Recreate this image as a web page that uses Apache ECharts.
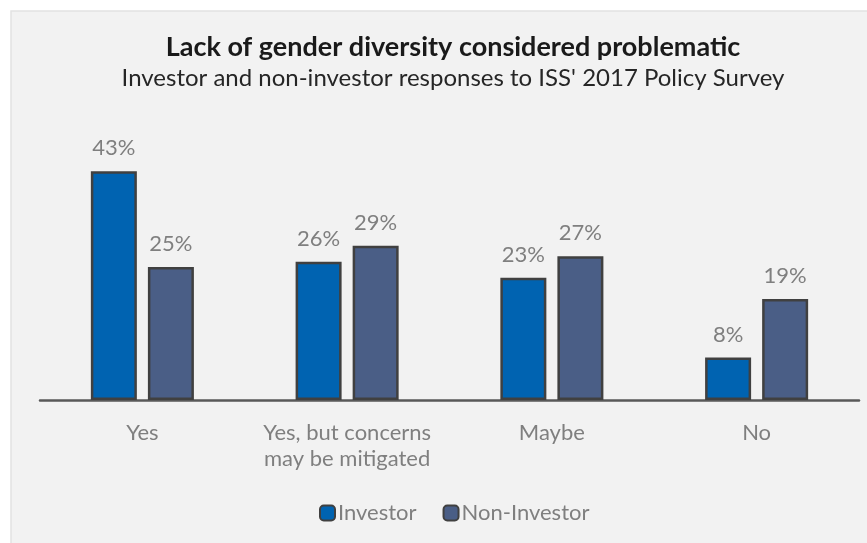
<!DOCTYPE html>
<html>
<head>
<meta charset="utf-8">
<script src="https://cdn.jsdelivr.net/npm/echarts@6/dist/echarts.min.js"></script>
<style>html,body{margin:0;padding:0;background:#fff;}#c{width:867px;height:543px;}</style>
</head>
<body>
<div id="c"></div>
<script>
var categories = ['Yes', 'Yes, but concerns\nmay be mitigated', 'Maybe', 'No'];
var investor = [43, 26, 23, 8];
var nonInvestor = [25, 29, 27, 19];
var seriesNames = ['Investor', 'Non-Investor'];

var FONT = 'Lato';
var chart = echarts.init(document.getElementById('c'));
var labelStyle = {
  show: true, position: 'top', distance: 12,
  formatter: function (p) { return p.value + '%'; },
  color: '#7f7f7f', fontSize: 22, fontFamily: FONT
};
chart.setOption({
  backgroundColor: '#ffffff',
  animation: false,
  graphic: [
    { type: 'rect', z: -10, shape: { x: 11, y: 11, width: 870, height: 540 },
      style: { fill: '#f2f2f2', stroke: '#e2e2e2', lineWidth: 1.5 } }
  ],
  title: {
    text: 'Lack of gender diversity considered problematic',
    subtext: "Investor and non-investor responses to ISS' 2017 Policy Survey",
    left: 448, textAlign: 'center', top: 29, itemGap: 5,
    textStyle: { fontFamily: FONT, fontWeight: 'bold', fontSize: 27, color: '#1a1a1a' },
    subtextStyle: { fontFamily: FONT, fontSize: 24, color: '#262626' }
  },
  legend: {
    data: seriesNames, top: 497, left: 314, itemWidth: 15, itemHeight: 15, itemGap: 26,
    itemStyle: { borderColor: '#404040', borderWidth: 2 },
    textStyle: { fontFamily: FONT, fontSize: 22, color: '#7f7f7f', padding: [0, 0, 0, -2] }
  },
  grid: { left: 40, right: 8, top: 134, bottom: 143 },
  xAxis: {
    type: 'category', data: categories,
    axisLine: { lineStyle: { color: '#595959', width: 2.5 } },
    axisTick: { show: false },
    axisLabel: { interval: 0, fontFamily: FONT, fontSize: 22, color: '#7f7f7f', margin: 20, lineHeight: 26 }
  },
  yAxis: { type: 'value', min: 0, max: 50, show: false, splitLine: { show: false } },
  series: [
    { name: seriesNames[0], type: 'bar', data: investor, barWidth: 46, barGap: '24%',
      itemStyle: { color: '#0063b1', borderColor: '#404040', borderWidth: 2.5 }, label: labelStyle },
    { name: seriesNames[1], type: 'bar', data: nonInvestor, barWidth: 46,
      itemStyle: { color: '#4a5e86', borderColor: '#404040', borderWidth: 2.5 }, label: labelStyle }
  ]
});
</script>
</body>
</html>
